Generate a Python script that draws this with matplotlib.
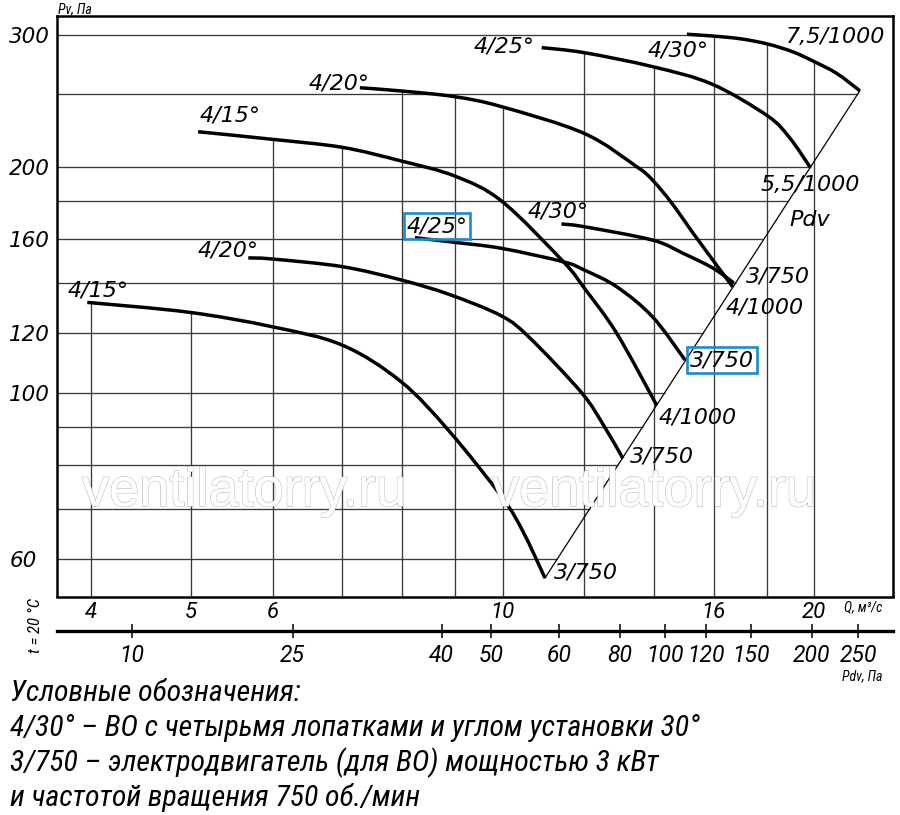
import numpy as np
import matplotlib
matplotlib.use('Agg')
import matplotlib.pyplot as plt
import matplotlib.patheffects as pe
from matplotlib import font_manager
from matplotlib.path import Path
from matplotlib.patches import PathPatch
from matplotlib.ticker import NullLocator

# Q, m3/s and Pv, Pa, one pair of lists per curve
q_415_lo = [3.97, 4.97, 5.99, 7.00, 7.98, 8.89, 9.99, 10.47, 10.99]
p_415_lo = [131.9, 128.0, 122.4, 115.7, 103.4, 88.7, 72.5, 65.2, 56.6]

q_420_lo = [5.68, 5.99, 7.00, 7.98, 8.89, 9.98, 10.63, 11.92, 12.53, 13.07]
p_420_lo = [151.2, 150.7, 147.2, 141.3, 135.1, 126.5, 118.2, 100.0, 90.3, 81.7]

q_415_hi = [5.08, 5.99, 7.00, 7.98, 8.99, 9.98, 11.45, 11.99, 12.89, 14.09]
p_415_hi = [222.7, 217.6, 212.3, 203.6, 194.4, 180.0, 149.4, 137.9, 120.0, 96.2]

q_420_hi = [7.28, 7.98, 8.99, 9.98, 11.99, 13.48, 13.96, 14.57, 15.40, 16.69]
p_420_hi = [254.9, 252.4, 248.0, 240.5, 221.6, 200.0, 192.0, 178.9, 160.7, 138.3]

q_425_hi = [10.91, 11.99, 13.97, 15.93, 18.04, 18.95, 19.81]
p_425_hi = [288.3, 283.9, 271.9, 257.8, 233.7, 218.4, 200.0]

q_430_hi = [15.07, 15.93, 16.96, 18.04, 19.09, 19.99, 21.02, 22.14]
p_430_hi = [300.4, 298.8, 296.3, 291.5, 284.5, 276.3, 266.5, 252.6]

q_425_lo = [8.23, 8.51, 8.99, 9.98, 11.45, 11.99, 12.89, 13.96, 15.01]
p_425_lo = [160.9, 160.0, 158.6, 155.7, 149.4, 145.7, 138.4, 126.2, 110.5]

q_430_lo = [11.40, 11.99, 13.96, 14.95, 15.96, 16.73]
p_430_lo = [167.8, 166.4, 159.7, 153.3, 146.6, 140.0]

curves = [(q_415_lo, p_415_lo), (q_420_lo, p_420_lo), (q_415_hi, p_415_hi),
          (q_420_hi, p_420_hi), (q_425_hi, p_425_hi), (q_430_hi, p_430_hi),
          (q_425_lo, p_425_lo), (q_430_lo, p_430_lo)]

# Pdv line (ends of the curves)
pdv_q = [10.99, 22.14]
pdv_p = [56.6, 252.6]

# curve labels: text, Q, P, boxed
labels = [
    ('4/15°', 4.07, 137.0, False), ('4/20°', 5.43, 154.9, False),
    ('4/15°', 5.46, 234.4, False), ('4/20°', 6.95, 258.6, False),
    ('4/25°', 8.64, 166.7, True), ('4/25°', 10.03, 288.9, False),
    ('4/30°', 14.77, 286.2, False), ('7,5/1000', 20.99, 297.9, False),
    ('5,5/1000', 19.81, 189.1, False), ('Pdv', 19.81, 169.8, False),
    ('4/30°', 11.31, 174.1, False), ('3/750', 18.45, 142.6, False),
    ('4/1000', 17.92, 129.7, False), ('3/750', 16.29, 110.5, True),
    ('4/1000', 15.45, 92.5, False), ('3/750', 14.25, 82.3, False),
    ('3/750', 12.04, 57.6, False),
]

q_grid = [4, 5, 6, 7, 8, 9, 10, 12, 14, 16, 18, 20]
q_ticks = [4, 5, 6, 10, 16, 20]
p_grid = [60, 70, 80, 90, 100, 120, 140, 160, 180, 200, 250, 300]
p_ticks = [60, 100, 120, 160, 200, 300]

# Pdv scale under the Q axis (position given as Q)
pdv_labels = ['10', '25', '40', '50', '60', '80', '100', '120', '150', '200', '250']
pdv_tick_q = [4.382, 6.270, 8.731, 9.744, 11.338, 12.982, 14.349, 15.719, 17.375, 19.886, 22.057]

legend_lines = ['Условные обозначения:',
                '4/30° – ВО с четырьмя лопатками и углом установки 30°',
                '3/750 – электродвигатель (для ВО) мощностью 3 кВт',
                'и частотой вращения 750 об./мин']

names = {f.name for f in font_manager.fontManager.ttflist}
cond = 'Roboto'
for cand in ['Liberation Sans Narrow', 'Roboto Condensed', 'Noto Sans Condensed',
             'Open Sans Condensed', 'Arial Narrow']:
    if cand in names:
        cond = cand
        break
tickfont = 'Roboto'
plt.rcParams['font.family'] = 'DejaVu Sans'

W, H = 900, 815
fig = plt.figure(figsize=(9, 8.15), dpi=100)
x0, x1, y0, y1 = 57.3, 892.7, 16, 596.5
ax = fig.add_axes([x0 / W, 1 - y1 / H, (x1 - x0) / W, (y1 - y0) / H])
ax.set_xscale('log')
ax.set_yscale('log')
xmin, xmax = 3.714, 23.82
ax.set_xlim(xmin, xmax)
ax.set_ylim(53.48, 317.7)


def envelope(q):
    q = np.atleast_1d(np.asarray(q, float))
    vals = np.array([np.interp(np.log(q), np.log(cq), np.log(cp), left=np.nan, right=np.nan)
                     for cq, cp in curves])
    out = np.full(q.shape, np.nan)
    ok = ~np.all(np.isnan(vals), axis=0)
    out[ok] = np.exp(np.nanmax(vals[:, ok], axis=0))
    return out


def smooth_path(q, p):
    # Catmull-Rom through the read points, done in log space
    pts = np.column_stack([np.log10(q), np.log10(p)])
    ext = np.vstack([pts[0], pts, pts[-1]])
    verts = [pts[0]]
    codes = [Path.MOVETO]
    for i in range(len(pts) - 1):
        a, b, c, d = ext[i], ext[i + 1], ext[i + 2], ext[i + 3]
        verts += [b + (c - a) / 6, c - (d - b) / 6, c]
        codes += [Path.CURVE4] * 3
    return Path(10 ** np.array(verts), codes)


# grid clipped by the curves and the Pdv line
for q in q_grid:
    ax.vlines(q, 53.48, envelope(q)[0], color='#3a3a3a', lw=0.95, zorder=1)
qs = np.geomspace(xmin, xmax, 3000)
env = envelope(qs)
for p in p_grid:
    qd = np.exp(np.interp(np.log(p), np.log(pdv_p), np.log(pdv_q)))
    inside = (qs <= qd) & (env >= p * 0.995)
    ax.hlines(p, xmin, qs[inside].max(), color='#3a3a3a', lw=0.95, zorder=1)

for cq, cp in curves:
    ax.add_patch(PathPatch(smooth_path(cq, cp), fill=False, ec='black', lw=2.5,
                           capstyle='butt', zorder=4))
ax.plot(pdv_q, pdv_p, color='black', lw=0.9, zorder=3)

for txt, q, p, boxed in labels:
    kw = {}
    if boxed:
        kw['bbox'] = dict(boxstyle='square,pad=0.12', fc='none', ec='#1b8ad3', lw=1.9)
    ax.text(q, p, txt, fontsize=16, style='italic', ha='center', va='center', zorder=5, **kw)

for s in ax.spines.values():
    s.set_linewidth(1.8)

ax.xaxis.set_minor_locator(NullLocator())
ax.yaxis.set_minor_locator(NullLocator())
ax.set_xticks(q_ticks, labels=[str(v) for v in q_ticks])
ax.set_yticks(p_ticks, labels=[str(v) for v in p_ticks])
ax.tick_params(length=0)
ax.tick_params(axis='y', pad=34.5, labelsize=15.5)
for lbl in ax.get_yticklabels():
    lbl.set_ha('left')
    lbl.set_style('italic')
ax.tick_params(axis='x', pad=4)
for lbl in ax.get_xticklabels():
    lbl.set_fontfamily(tickfont)
    lbl.set_fontsize(16)
    lbl.set_style('italic')

# second scale: dynamic pressure
ax2 = fig.add_axes([x0 / W, 1 - 631 / H, (x1 - x0) / W, 0.0001])
ax2.set_xscale('log')
ax2.set_xlim(xmin, xmax)
ax2.set_yticks([])
for k in ['top', 'left', 'right']:
    ax2.spines[k].set_visible(False)
ax2.spines['bottom'].set_linewidth(2.4)
ax2.xaxis.set_minor_locator(NullLocator())
ax2.set_xticks(pdv_tick_q, labels=pdv_labels)
ax2.tick_params(axis='x', direction='inout', length=10, width=1.1, pad=4)
for lbl in ax2.get_xticklabels():
    lbl.set_fontfamily(tickfont)
    lbl.set_fontsize(16.5)
    lbl.set_style('italic')
ax2.patch.set_visible(False)

# watermark
for xc in [244, 654]:
    fig.text(xc / W, 1 - 506 / H, 'ventilatorry.ru', fontsize=39, family='Liberation Sans',
             ha='center', va='baseline', color='white', zorder=3,
             path_effects=[pe.withStroke(linewidth=1.0, foreground='#bcbcbc'), pe.Normal()])

fig.text(58 / W, 1 - 9 / H, 'Pv, Па', fontsize=10, family=cond, style='italic', va='center')
fig.text(863 / W, 1 - 607 / H, 'Q, м³/с', fontsize=10, family=cond, style='italic',
         ha='center', va='center')
fig.text(862 / W, 1 - 676 / H, 'Pdv, Па', fontsize=10, family=cond, style='italic',
         ha='center', va='center')
fig.text(35 / W, 1 - 626 / H, 't = 20 °C', fontsize=12, family=cond, style='italic',
         rotation=90, ha='center', va='center')

for i, line in enumerate(legend_lines):
    fig.text(10 / W, 1 - (701 + 35 * i) / H, line, fontsize=21.5, family=cond,
             style='italic', va='baseline')

fig.savefig('out.png', dpi=100)
